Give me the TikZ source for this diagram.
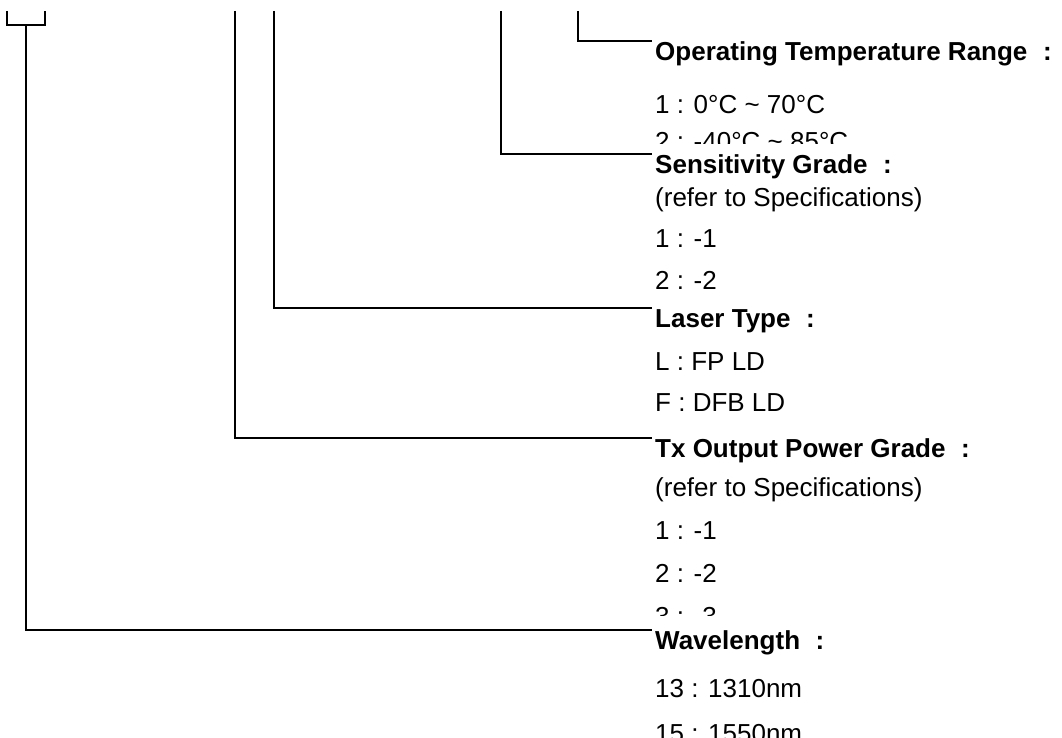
\documentclass[tikz,border=0pt]{standalone}
\usepackage{fontspec}
\setmainfont{Liberation Sans}
\usepackage{tikz}
\usetikzlibrary{positioning, calc}
\newcommand\headfont{\fontsize{26}{31}\selectfont\bfseries}
\newcommand\itemfont{\fontsize{26}{31}\selectfont}
\newcommand\hcolon{\hspace{0.6em}:}
\tikzset{
    leadline/.style={line width=1.8pt},
    headbox/.style={anchor=north west, inner xsep=3pt, inner ysep=0pt, text height=19pt, font=\headfont},
    itembox/.style={anchor=base west, inner sep=0pt, font=\itemfont},
}

\begin{document}
\begin{tikzpicture}[x=1pt, y=-1pt]
    \useasboundingbox (0,0) rectangle (1062,738);

    % Headings
    \node[headbox] (temp) at (652, 41) {Operating Temperature Range\hcolon};
    \node[headbox] (sens) at (652, 154) {Sensitivity Grade\hcolon};
    \node[headbox] (laser) at (652, 308) {Laser Type\hcolon};
    \node[headbox] (txpow) at (652, 438) {Tx Output Power Grade\hcolon};
    \node[headbox] (wave) at (652, 630) {Wavelength\hcolon};

    % Operating temperature options
    \node[itembox] (temp1) at (655, 114) {1 : 0°C \textasciitilde{} 70°C};
    \begin{scope}
        \clip (600, 0) rectangle (1062, 144);
        \node[itembox] (temp2) at (655, 151) {2 : -40°C \textasciitilde{} 85°C};
    \end{scope}

    % Sensitivity options
    \node[itembox] (sensref) at (655, 207) {(refer to Specifications)};
    \node[itembox] (sens1) at (655, 247) {1 : -1};
    \node[itembox] (sens2) at (655, 289) {2 : -2};

    % Laser options
    \node[itembox] (laser1) at (655, 370) {L : FP LD};
    \node[itembox] (laser2) at (655, 411) {F : DFB LD};

    % Tx power options
    \node[itembox] (txref) at (655, 496) {(refer to Specifications)};
    \node[itembox] (tx1) at (655, 539) {1 : -1};
    \node[itembox] (tx2) at (655, 582) {2 : -2};
    \begin{scope}
        \clip (600, 500) rectangle (1062, 615);
        \node[itembox] (tx3) at (655, 625) {3 : -3};
    \end{scope}

    % Wavelength options
    \node[itembox] (wave1) at (655, 697) {13 : 1310nm};
    \node[itembox] (wave2) at (655, 742) {15 : 1550nm};

    % Line tops
    \coordinate (brl) at (7, 11);
    \coordinate (brr) at (45, 11);
    \coordinate (stem) at (26, 25);
    \coordinate (ctx) at (235, 11);
    \coordinate (claser) at (274, 11);
    \coordinate (csens) at (501, 11);
    \coordinate (ctemp) at (578, 11);

    % Leader lines
    \draw[leadline] (brl) -- ++(0, 14) -| (brr);
    \draw[leadline] (stem) |- (wave.north west);
    \draw[leadline] (ctx) |- (txpow.north west);
    \draw[leadline] (claser) |- (laser.north west);
    \draw[leadline] (csens) |- (sens.north west);
    \draw[leadline] (ctemp) |- (temp.north west);
\end{tikzpicture}
\end{document}
